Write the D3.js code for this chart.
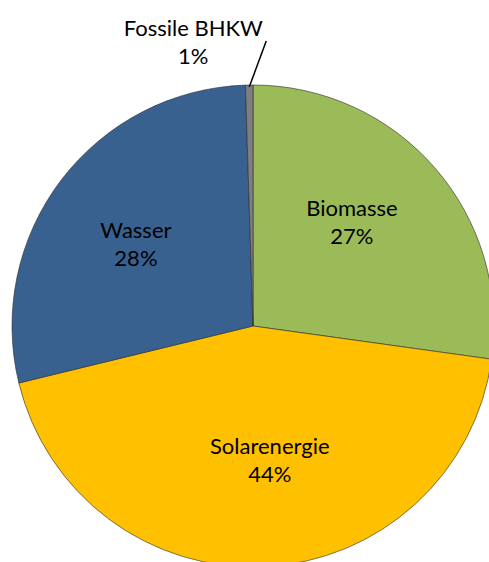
<!DOCTYPE html>
<html>
<head>
<meta charset="utf-8">
<script src="https://cdn.jsdelivr.net/npm/d3@7"></script>
<style>
  html, body { margin: 0; padding: 0; background: #fff; overflow: hidden; }
  svg text { font-family: Lato, "Open Sans", sans-serif; }
</style>
</head>
<body>
<div id="vis"></div>
<script>
const width = 489;
const height = 562;

// data
const categories = ["Biomasse", "Solarenergie", "Wasser", "Fossile BHKW"];
const shares = [27.2, 44.0, 28.3, 0.5];
const shareLabels = ["27%", "44%", "28%", "1%"];
const colors = ["#9BBB59", "#FFC000", "#386190", "#7F7F7F"];

const data = categories.map((c, i) => ({ name: c, value: shares[i], label: shareLabels[i], color: colors[i] }));

const cx = 253, cy = 326, radius = 241;
const labelR = 140;
const shift = -4 * Math.PI / 180; // excel puts labels a bit counter-clockwise

const svg = d3.select("#vis")
  .append("svg")
  .attr("width", width)
  .attr("height", height);

const pie = d3.pie()
  .sort(null)
  .value(d => d.value);

const arc = d3.arc()
  .innerRadius(0)
  .outerRadius(radius);

const g = svg.append("g")
  .attr("transform", `translate(${cx},${cy})`);

const arcs = pie(data);

g.selectAll("path")
  .data(arcs)
  .enter()
  .append("path")
  .attr("d", arc)
  .attr("fill", d => d.data.color)
  .attr("stroke", "#2b2b2b")
  .attr("stroke-width", 0.6);

// inside labels
const inside = arcs.filter(d => d.data.value > 5);
const labels = g.selectAll("text.lbl")
  .data(inside)
  .enter()
  .append("text")
  .attr("class", "lbl")
  .attr("text-anchor", "middle")
  .attr("font-size", "22px")
  .attr("fill", "#000")
  .attr("transform", d => {
    const a = (d.startAngle + d.endAngle) / 2 + shift;
    return `translate(${Math.sin(a) * labelR},${-Math.cos(a) * labelR})`;
  });

labels.append("tspan")
  .attr("x", 0)
  .attr("dy", -11)
  .text(d => d.data.name);

labels.append("tspan")
  .attr("x", 0)
  .attr("dy", 28)
  .text(d => d.data.label);

// small slice: label outside with leader line
const small = arcs.filter(d => d.data.value <= 5);
small.forEach(d => {
  const mid = (d.startAngle + d.endAngle) / 2;
  const x0 = Math.sin(mid) * (radius - 2);
  const y0 = -Math.cos(mid) * (radius - 2);
  const x1 = x0 + 17;
  const y1 = y0 - 46;

  g.append("line")
    .attr("x1", x0)
    .attr("y1", y0)
    .attr("x2", x1)
    .attr("y2", y1)
    .attr("stroke", "#000")
    .attr("stroke-width", 1.5);

  const t = g.append("text")
    .attr("text-anchor", "middle")
    .attr("font-size", "22px")
    .attr("fill", "#000")
    .attr("transform", `translate(${x0 - 56},${y0 - 51})`);

  t.append("tspan").attr("x", 0).attr("dy", 0).text(d.data.name);
  t.append("tspan").attr("x", 0).attr("dy", 28).text(d.data.label);
});
</script>
</body>
</html>
